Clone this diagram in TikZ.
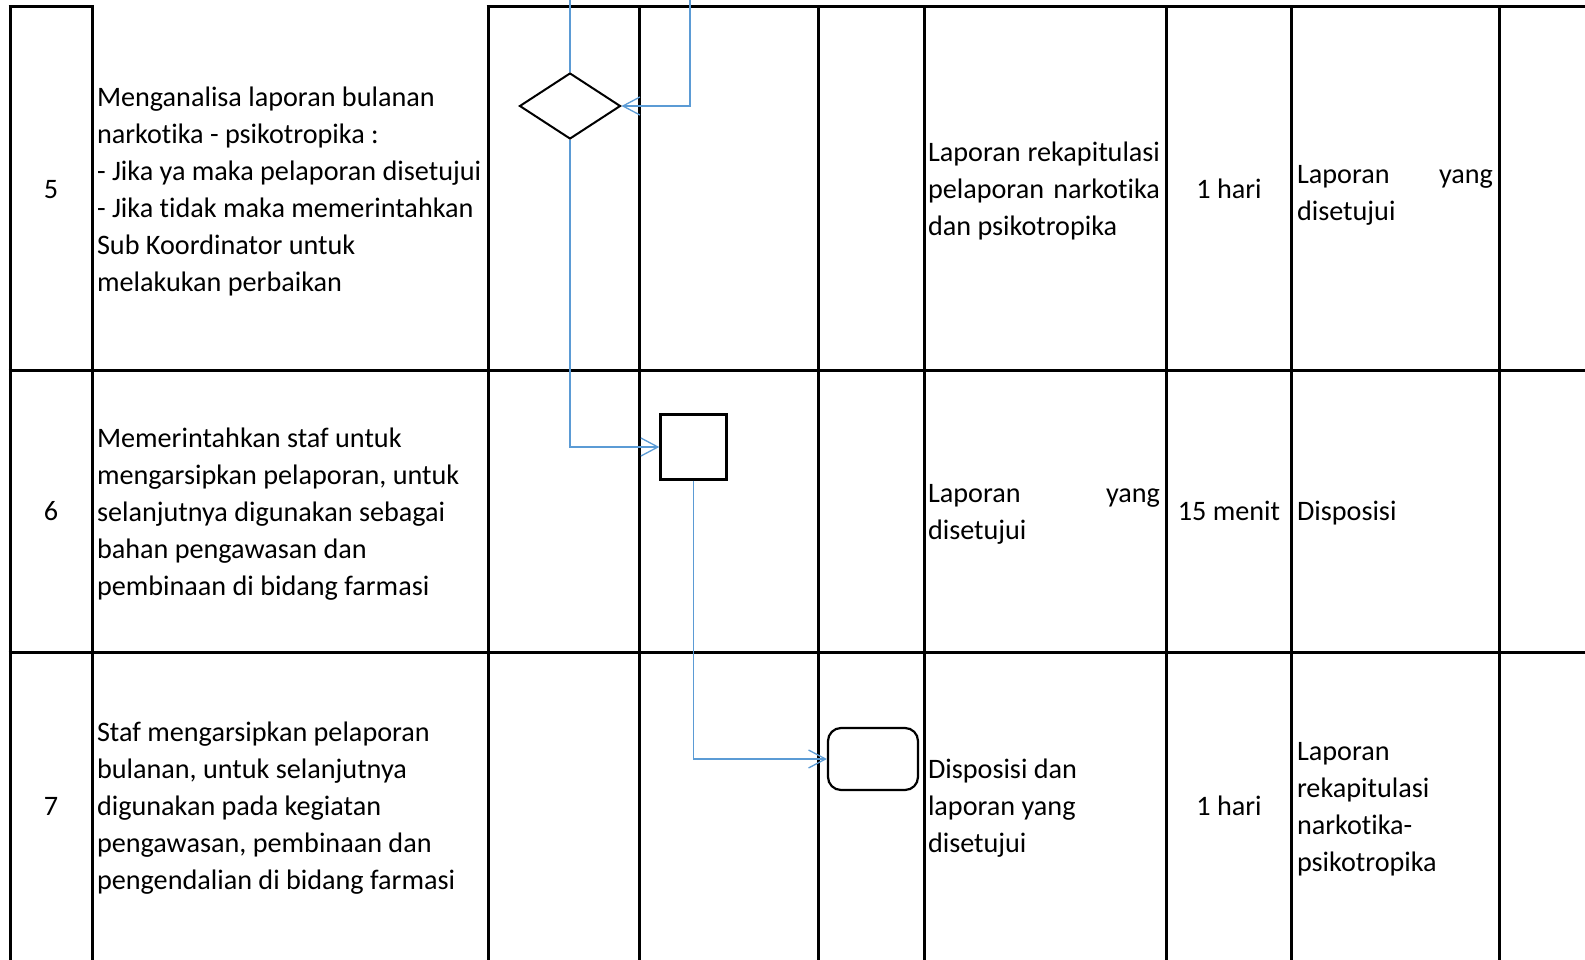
\documentclass[tikz,border=0pt]{standalone}
\usepackage{fontspec}
\setmainfont{Carlito}[Ligatures=NoCommon]
\usetikzlibrary{shapes.geometric,arrows.meta}
\definecolor{flowblue}{RGB}{91,155,213}
\newcommand{\jline}[3]{\hbox to #1{\strut #2\hfill #3}}
\begin{document}
\begin{tikzpicture}[x=1pt,y=-1pt,
  grid/.style={line width=3pt,black},
  cell/.style={inner sep=0pt,outer sep=0pt,align=left,font=\fontsize{28.2}{37}\selectfont},
  ccell/.style={inner sep=0pt,outer sep=0pt,align=center,font=\fontsize{28.2}{37}\selectfont},
  decbox/.style={shape=diamond,draw,line width=2pt,inner sep=0pt,minimum width=101pt,minimum height=66pt},
  procbox/.style={shape=rectangle,draw,line width=2.4pt,inner sep=0pt,minimum width=66pt,minimum height=65pt},
  termbox/.style={shape=rectangle,draw,line width=2.2pt,inner sep=0pt,rounded corners=13pt,minimum width=90pt,minimum height=62pt},
  flow/.style={draw=flowblue,line width=1.3pt},
  flowarrow/.style={flow,-{Straight Barb[length=17pt,width=18pt]}}
]
\useasboundingbox (0,0) rectangle (1585,960);
\clip (0,0) rectangle (1585,960);
\fill[white] (0,0) rectangle (1585,960);

% table grid
\draw[grid] (8.5,7) -- (93.5,7);
\draw[grid] (486.5,7) -- (1590,7);
\foreach \xx in {10,92,488,639,818,924,1166,1291,1499}
  \draw[grid] (\xx,5.5) -- (\xx,966);
\draw[grid] (8.5,370) -- (1590,370);
\draw[grid] (8.5,652) -- (1590,652);

% column 1
\node[ccell] (n5) at (51,191) {\strut 5};
\node[ccell] (n6) at (51,513.5) {\strut 6};
\node[ccell] (n7) at (51,808.5) {\strut 7};

% column 2
\node[cell,anchor=west] (a5) at (97,192) {\strut Menganalisa laporan bulanan\\
\strut narkotika - psikotropika :\\
\strut - Jika ya maka pelaporan disetujui\\
\strut - Jika tidak maka memerintahkan\\
\strut Sub Koordinator untuk\\
\strut melakukan perbaikan};
\node[cell,anchor=west] (a6) at (97,514.5) {\strut Memerintahkan staf untuk\\
\strut mengarsipkan pelaporan, untuk\\
\strut selanjutnya digunakan sebagai\\
\strut bahan pengawasan dan\\
\strut pembinaan di bidang farmasi};
\node[cell,anchor=west] (a7) at (97,808.5) {\strut Staf mengarsipkan pelaporan\\
\strut bulanan, untuk selanjutnya\\
\strut digunakan pada kegiatan\\
\strut pengawasan, pembinaan dan\\
\strut pengendalian di bidang farmasi};

% column 6
\node[cell,anchor=west] (b5) at (928,191) {\jline{232pt}{Laporan}{rekapitulasi}\\
\jline{232pt}{pelaporan}{narkotika}\\
\strut dan psikotropika};
\node[cell,anchor=west] (b6) at (928,513.5) {\jline{232pt}{Laporan}{yang}\\
\strut disetujui};
\node[cell,anchor=west] (b7) at (928,808.5) {\strut Disposisi dan\\
\strut laporan yang\\
\strut disetujui};

% column 7
\node[ccell] (c5) at (1229,191) {\strut 1 hari};
\node[ccell] (c6) at (1229,513.5) {\strut 15 menit};
\node[ccell] (c7) at (1229,808.5) {\strut 1 hari};

% column 8
\node[cell,anchor=west] (e5) at (1297,195) {\jline{196pt}{Laporan}{yang}\\
\strut disetujui};
\node[cell,anchor=west] (e6) at (1297,513.5) {\strut Disposisi};
\node[cell,anchor=west] (e7) at (1297,808.5) {\strut Laporan\\
\strut rekapitulasi\\
\strut narkotika-\\
\strut psikotropika};

% flow shapes
\node[decbox] (dec) at (570,106) {};
\node[procbox] (proc) at (693.5,447) {};
\node[termbox] (term) at (873,759) {};
\coordinate (in1) at (570,-2);
\coordinate (in2) at (690,-2);

% connectors
\draw[flow] (in1) -- (dec.north);
\draw[flowarrow] (in2) |- (dec.east);
\draw[flowarrow] (dec.south) |- (proc.west);
\draw[flowarrow] (proc.south) |- (term.west);
\end{tikzpicture}
\end{document}
